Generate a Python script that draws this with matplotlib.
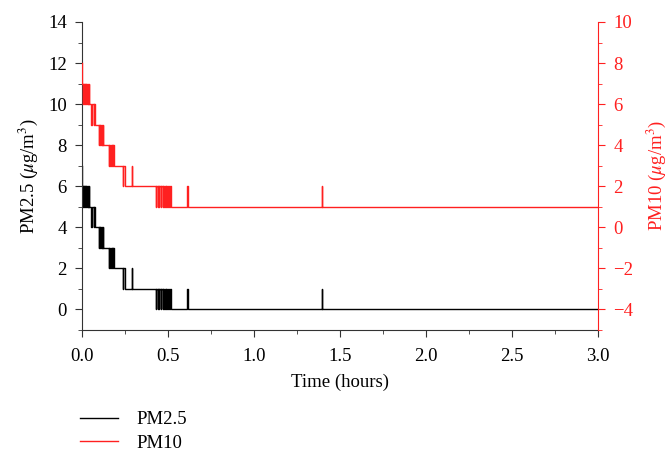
import matplotlib
matplotlib.use("Agg")
import matplotlib.pyplot as plt
from matplotlib.ticker import MultipleLocator

plt.rcParams['font.family'] = ['Liberation Serif', 'DejaVu Serif']
plt.rcParams['mathtext.fontset'] = 'stix'

# time (hours) of each step change, shared by both sensors
time_h = [0.000, 0.002, 0.005, 0.008, 0.011, 0.014, 0.017, 0.020, 0.023, 0.026, 0.029, 0.032, 0.035, 0.038, 0.041,
          0.054, 0.057, 0.068, 0.071, 0.073,
          0.097, 0.100, 0.104, 0.107, 0.111, 0.114, 0.118, 0.121, 0.124,
          0.155, 0.158, 0.163, 0.166, 0.172, 0.175, 0.180, 0.183, 0.186,
          0.237, 0.240, 0.248, 0.289, 0.292,
          0.430, 0.433, 0.440, 0.443, 0.447, 0.450, 0.458, 0.461, 0.468, 0.471, 0.478, 0.481,
          0.486, 0.489, 0.495, 0.498, 0.506, 0.509, 0.518,
          0.612, 0.615, 1.393, 1.396, 3.000]

pm25 = [7, 6, 5, 6, 5, 6, 5, 6, 5, 6, 5, 6, 5, 6, 5,
        4, 5, 4, 5, 4,
        3, 4, 3, 4, 3, 4, 3, 4, 3,
        2, 3, 2, 3, 2, 3, 2, 3, 2,
        1, 2, 1, 2, 1,
        0, 1, 0, 1, 0, 1, 0, 1, 0, 1, 0, 1,
        0, 1, 0, 1, 0, 1, 0,
        1, 0, 1, 0, 0]

pm10 = [8, 7, 6, 7, 6, 7, 6, 7, 6, 7, 6, 7, 6, 7, 6,
        5, 6, 5, 6, 5,
        4, 5, 4, 5, 4, 5, 4, 5, 4,
        3, 4, 3, 4, 3, 4, 3, 4, 3,
        2, 3, 2, 3, 2,
        1, 2, 1, 2, 1, 2, 1, 2, 1, 2, 1, 2,
        1, 2, 1, 2, 1, 2, 1,
        2, 1, 2, 1, 1]

red = '#ff2020'

fig = plt.figure(figsize=(6.69, 4.55), dpi=100)
ax = fig.add_axes([0.1226, 0.2747, 0.7713, 0.677])
ax2 = ax.twinx()

l1, = ax.plot(time_h, pm25, drawstyle='steps-post', color='black', lw=1.0, label='PM2.5')
l2, = ax2.plot(time_h, pm10, drawstyle='steps-post', color=red, lw=1.0, label='PM10')

ax.set_xlim(0, 3)
ax.set_ylim(-1, 14)
ax2.set_ylim(-5, 10)

ax.xaxis.set_major_locator(MultipleLocator(0.5))
ax.xaxis.set_minor_locator(MultipleLocator(0.25))
ax.yaxis.set_major_locator(MultipleLocator(2))
ax.yaxis.set_minor_locator(MultipleLocator(1))
ax2.yaxis.set_major_locator(MultipleLocator(2))
ax2.yaxis.set_minor_locator(MultipleLocator(1))
ax.xaxis.set_major_formatter(matplotlib.ticker.FormatStrFormatter('%.1f'))

for a in (ax, ax2):
    a.spines['top'].set_visible(False)
ax.spines['right'].set_visible(False)
ax2.spines['left'].set_visible(False)
ax2.spines['bottom'].set_visible(False)
ax2.spines['right'].set_color(red)
ax.spines['left'].set_color('#333333')
ax.spines['bottom'].set_color('#333333')

ax.tick_params(axis='both', which='major', direction='out', length=5, labelsize=13.5, color='#333333')
ax.tick_params(axis='both', which='minor', direction='out', length=3, color='#333333')
ax.tick_params(axis='x', pad=8)
ax.tick_params(axis='y', pad=6)
ax2.tick_params(axis='y', which='major', direction='out', length=5, labelsize=13.5, colors=red, pad=6)
ax2.tick_params(axis='y', which='minor', direction='out', length=3, colors=red)
ax.tick_params(top=False)

ax.set_xlabel('Time (hours)', fontsize=13.5, labelpad=6)
ax.set_ylabel(r'PM2.5 ($\mu$g/m$^3$)', fontsize=13.5, labelpad=6)
ax2.set_ylabel(r'PM10 ($\mu$g/m$^3$)', fontsize=13.5, color=red, labelpad=8)

fig.legend(handles=[l1, l2], loc='lower left', bbox_to_anchor=(0.095, -0.03),
           frameon=False, fontsize=13.5, handlelength=2.0, handletextpad=1.0, labelspacing=0.35)

fig.savefig('out.png', dpi=100)
